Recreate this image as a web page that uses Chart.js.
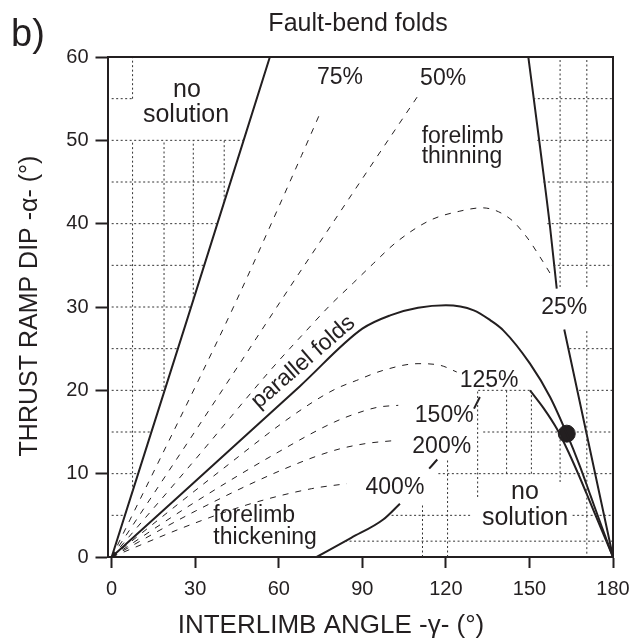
<!DOCTYPE html>
<html>
<head>
<meta charset="utf-8">
<script src="https://cdn.jsdelivr.net/npm/chart.js@4.4.1/dist/chart.umd.min.js"></script>
<style>
  html, body { margin: 0; padding: 0; background: #fff; }
</style>
</head>
<body>
<canvas id="foldChart" width="641" height="641"></canvas>
<script>
const FONT = "'Liberation Sans', Arial, Helvetica, sans-serif";
const INK = '#231f20';

// axes
const xTickValues = [0, 30, 60, 90, 120, 150, 180];
const yTickValues = [0, 10, 20, 30, 40, 50, 60];

// solid curves  [interlimb angle, ramp dip]
const steepLeft = [[0, 0], [27, 28.4], [56.8, 60]];
const parallelFolds = [[0, 0], [67.6, 20.5], [90, 27.4], [100, 29.0], [110, 29.9], [120, 30.2], [130, 29.6],
  [136, 28.4], [140.6, 27.2], [150.2, 23.2], [157.4, 19.2], [163.4, 14.8], [168, 11.0], [172, 7.3], [176, 3.6], [180, 0]];
const ramp25Upper = [[149.6, 60], [153.8, 49.2], [157.4, 39.6], [159.8, 32.2]];
const ramp25Lower = [[162.5, 27.3], [180, 0]];
const boundary400 = [[73.6, 0], [86, 2.3], [97.5, 4.5], [103.5, 6.4]];
const boundaryMid1 = [[114, 10.6], [116.9, 11.7]];
const boundaryMid2 = [[130.1, 17.8], [132.2, 19.2]];
const boundaryRight = [[150.2, 20], [155, 17.9], [160, 15.3], [164, 12.6], [168, 9.6], [172, 6.4], [176, 3.2], [180, 0]];

// dashed curves
const curve75 = [[0, 0], [31, 21.1], [44.3, 30.4], [68.2, 48.2], [74.5, 53.0]];
const curve50 = [[0, 0], [37.7, 19], [66.4, 33.6], [78.4, 39.6], [95, 47.9], [110.1, 55.4]];
const curveArch = [[0, 0], [30, 11.7], [58, 22.8], [70, 27.2], [78.4, 30.2], [86.8, 32.9], [93.9, 35.2], [102.3, 37.8],
  [114.3, 40.4], [125, 41.5], [133, 41.9], [143, 40.6], [149, 38.4], [153.8, 36], [158.6, 33.4]];
const curve125 = [[0, 0], [40, 10.6], [66.4, 17.3], [80, 20.1], [88, 21.2], [97.5, 22.4], [110, 23.2], [118, 23.0], [123.9, 22.2]];
const curve150 = [[0, 0], [30, 6.6], [60.4, 12.7], [80, 16.2], [90.3, 17.5], [96, 18.0], [102.9, 18.2]];
const curve200 = [[0, 0], [30, 5.5], [61.5, 10.5], [80, 12.8], [91, 13.6], [102.3, 14.0]];
const curve400 = [[0, 0], [29.3, 4.0], [50, 6.4], [71.8, 8.2], [84.4, 8.8]];

const markPoint = [[163.4, 14.8]];

// dotted graph-paper pieces: [x, yFrom, yTo] and [y, xFrom, xTo]
const gridVertical = [
  [7.5, 7.9, 50], [7.5, 55, 60], [18.8, 19.8, 50], [29.3, 31, 50], [40.4, 42.7, 50],
  [161, 32.4, 60], [170.6, 32.4, 60], [170.6, 0.4, 27.4],
  [111.6, 0, 6.4], [120.6, 0, 11.8], [131.4, 7.2, 20], [141.8, 10, 20.2], [150.7, 10, 20], [161, 9, 14.8]
];
const gridHorizontal = [
  [55, 0, 7.5], [50, 0, 47.3], [45, 0, 40.4], [40, 0, 37.9], [35, 0, 33.1], [30, 0, 28.4],
  [25, 0, 23.7], [20, 0, 18.9], [15, 0, 14.2], [10, 0, 9.5], [5, 0, 4.7],
  [55, 151.4, 180], [50, 152.8, 180], [45, 155, 180], [40, 156.4, 180], [35, 158.6, 180],
  [25, 164.3, 180], [20, 131.6, 150.6], [20, 167.8, 180], [15, 133.4, 161], [15, 167, 180],
  [10, 117.3, 180], [5, 100.5, 129], [5, 165.5, 180], [1.9, 83.8, 180]
];

// text on the plot [text, x, y(baseline)]
const bigLabels = [['no', 27, 55.2], ['solution', 26.7, 52.2], ['no', 148.4, 7.0], ['solution', 148.4, 3.8]];
const pctLabels = [['75%', 82, 56.8], ['50%', 119, 56.6], ['25%', 162.5, 29.2], ['125%', 135.5, 20.4],
  ['150%', 119.4, 16.2], ['200%', 118.5, 12.5], ['400%', 101.7, 7.6]];
const leftLabels = [['forelimb', 111.3, 49.7], ['thinning', 111.3, 47.3], ['forelimb', 36.5, 4.2], ['thickening', 36.5, 1.6]];
const slopeLabel = ['parallel folds', 70.3, 22.8];

function pts(arr) { return arr.map(p => ({ x: p[0], y: p[1] })); }

const datasets = [];
gridVertical.forEach(g => datasets.push({ data: pts([[g[0], g[1]], [g[0], g[2]]]), kind: 'grid' }));
gridHorizontal.forEach(g => datasets.push({ data: pts([[g[1], g[0]], [g[2], g[0]]]), kind: 'grid' }));
[curve75, curve50, curveArch, curve125, curve150, curve200, curve400].forEach(c => datasets.push({ data: pts(c), kind: 'dash' }));
[steepLeft, parallelFolds, ramp25Upper, ramp25Lower, boundary400, boundaryMid1, boundaryMid2, boundaryRight]
  .forEach(c => datasets.push({ data: pts(c), kind: 'solid' }));

const styled = datasets.map(d => {
  const base = { data: d.data, showLine: true, pointRadius: 0, borderColor: INK, fill: false };
  if (d.kind === 'grid') return Object.assign(base, { borderWidth: 1, borderDash: [2, 2.5], borderColor: '#333' });
  if (d.kind === 'dash') return Object.assign(base, { borderWidth: 1, borderDash: [6, 7], cubicInterpolationMode: 'monotone' });
  return Object.assign(base, { borderWidth: 2, cubicInterpolationMode: 'monotone' });
});
styled.push({ data: pts(markPoint), showLine: false, pointRadius: 8.5, backgroundColor: INK, borderColor: INK });

const textPlugin = {
  id: 'figureText',
  afterDraw(chart) {
    const ctx = chart.ctx, xs = chart.scales.x, ys = chart.scales.y, a = chart.chartArea;
    ctx.save();
    // frame top / right
    ctx.strokeStyle = INK; ctx.lineWidth = 2;
    ctx.beginPath();
    ctx.moveTo(a.left, a.top); ctx.lineTo(a.right, a.top); ctx.lineTo(a.right, a.bottom);
    ctx.stroke();

    ctx.fillStyle = INK;
    ctx.textBaseline = 'alphabetic';
    ctx.textAlign = 'center';
    ctx.font = '25px ' + FONT;
    bigLabels.forEach(l => ctx.fillText(l[0], xs.getPixelForValue(l[1]), ys.getPixelForValue(l[2])));
    ctx.font = '23px ' + FONT;
    pctLabels.forEach(l => ctx.fillText(l[0], xs.getPixelForValue(l[1]), ys.getPixelForValue(l[2])));
    ctx.textAlign = 'left';
    leftLabels.forEach(l => ctx.fillText(l[0], xs.getPixelForValue(l[1]), ys.getPixelForValue(l[2])));

    ctx.save();
    ctx.translate(xs.getPixelForValue(slopeLabel[1]), ys.getPixelForValue(slopeLabel[2]));
    ctx.rotate(-41 * Math.PI / 180);
    ctx.textAlign = 'center';
    ctx.fillText(slopeLabel[0], 0, 0);
    ctx.restore();

    // titles
    ctx.textAlign = 'left';
    ctx.font = '38px ' + FONT;
    ctx.fillText('b)', 11, 46);
    ctx.textAlign = 'center';
    ctx.font = '25px ' + FONT;
    ctx.fillText('Fault-bend folds', 358, 31);
    ctx.font = '26px ' + FONT;
    ctx.fillText('INTERLIMB ANGLE -\u03b3- (\u00b0)', 331, 633);
    ctx.font = '25px ' + FONT;
    ctx.save();
    ctx.translate(37, 306);
    ctx.rotate(-Math.PI / 2);
    ctx.fillText('THRUST RAMP DIP -\u03b1- (\u00b0)', 0, 0);
    ctx.restore();
    ctx.restore();
  }
};

new Chart(document.getElementById('foldChart').getContext('2d'), {
  type: 'scatter',
  data: { datasets: styled },
  options: {
    responsive: false,
    animation: false,
    layout: { padding: { top: 57, right: 28, left: 0, bottom: 0 } },
    plugins: { legend: { display: false }, tooltip: { enabled: false }, title: { display: false } },
    scales: {
      x: {
        type: 'linear', min: -1.5, max: 180,
        afterFit(s) { s.height = 84; },
        afterBuildTicks(s) { s.ticks = xTickValues.map(v => ({ value: v })); },
        grid: { drawOnChartArea: false, drawTicks: true, tickLength: 11, tickWidth: 2, tickColor: INK },
        border: { display: true, color: INK, width: 2 },
        ticks: { font: { family: FONT, size: 20 }, color: INK, padding: 9, maxRotation: 0, autoSkip: false }
      },
      y: {
        type: 'linear', min: 0, max: 60,
        afterFit(s) { s.width = 107.5; },
        afterBuildTicks(s) { s.ticks = yTickValues.map(v => ({ value: v })); },
        grid: { drawOnChartArea: false, drawTicks: true, tickLength: 12, tickWidth: 2, tickColor: INK },
        border: { display: true, color: INK, width: 2 },
        ticks: { font: { family: FONT, size: 20 }, color: INK, padding: 7, autoSkip: false }
      }
    }
  },
  plugins: [textPlugin]
});
</script>
</body>
</html>
